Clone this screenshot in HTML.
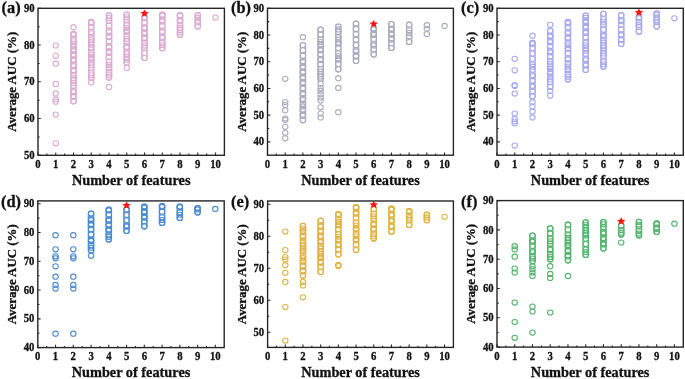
<!DOCTYPE html>
<html><head><meta charset="utf-8"><style>
html,body{margin:0;padding:0;background:#fff;}
svg{display:block;filter:blur(0.3px);}
text{font-family:"Liberation Serif", serif;fill:#111;stroke:#111;stroke-width:0.3px;}
</style></head><body>
<svg width="685" height="379" viewBox="0 0 685 379">
<rect width="685" height="379" fill="#fff"/>
<g><g fill="none" stroke="#dbadd2" stroke-width="1.1"><ellipse cx="55.75" cy="45.50" rx="2.72" ry="2.55"/><ellipse cx="55.75" cy="55.80" rx="2.72" ry="2.55"/><ellipse cx="55.75" cy="63.70" rx="2.72" ry="2.55"/><ellipse cx="55.75" cy="83.90" rx="2.72" ry="2.55"/><ellipse cx="55.75" cy="93.40" rx="2.72" ry="2.55"/><ellipse cx="55.75" cy="99.40" rx="2.72" ry="2.55"/><ellipse cx="55.75" cy="101.70" rx="2.72" ry="2.55"/><ellipse cx="55.75" cy="114.60" rx="2.72" ry="2.55"/><ellipse cx="55.75" cy="143.30" rx="2.72" ry="2.55"/><rect x="70.78" y="31.25" width="5.44" height="72.60" rx="2.72" ry="2.55"/><ellipse cx="73.50" cy="27.20" rx="2.72" ry="2.55"/><ellipse cx="73.50" cy="33.80" rx="2.72" ry="2.55"/><ellipse cx="73.50" cy="34.69" rx="2.72" ry="2.55"/><ellipse cx="73.50" cy="38.99" rx="2.72" ry="2.55"/><ellipse cx="73.50" cy="41.34" rx="2.72" ry="2.55"/><ellipse cx="73.50" cy="44.18" rx="2.72" ry="2.55"/><ellipse cx="73.50" cy="46.70" rx="2.72" ry="2.55"/><ellipse cx="73.50" cy="49.38" rx="2.72" ry="2.55"/><ellipse cx="73.50" cy="50.48" rx="2.72" ry="2.55"/><ellipse cx="73.50" cy="54.57" rx="2.72" ry="2.55"/><ellipse cx="73.50" cy="55.63" rx="2.72" ry="2.55"/><ellipse cx="73.50" cy="59.76" rx="2.72" ry="2.55"/><ellipse cx="73.50" cy="60.62" rx="2.72" ry="2.55"/><ellipse cx="73.50" cy="64.95" rx="2.72" ry="2.55"/><ellipse cx="73.50" cy="66.25" rx="2.72" ry="2.55"/><ellipse cx="73.50" cy="70.15" rx="2.72" ry="2.55"/><ellipse cx="73.50" cy="71.08" rx="2.72" ry="2.55"/><ellipse cx="73.50" cy="75.34" rx="2.72" ry="2.55"/><ellipse cx="73.50" cy="78.21" rx="2.72" ry="2.55"/><ellipse cx="73.50" cy="80.53" rx="2.72" ry="2.55"/><ellipse cx="73.50" cy="83.07" rx="2.72" ry="2.55"/><ellipse cx="73.50" cy="85.72" rx="2.72" ry="2.55"/><ellipse cx="73.50" cy="90.92" rx="2.72" ry="2.55"/><ellipse cx="73.50" cy="92.23" rx="2.72" ry="2.55"/><ellipse cx="73.50" cy="96.11" rx="2.72" ry="2.55"/><ellipse cx="73.50" cy="96.99" rx="2.72" ry="2.55"/><ellipse cx="73.50" cy="101.30" rx="2.72" ry="2.55"/><rect x="88.54" y="19.35" width="5.44" height="61.20" rx="2.72" ry="2.55"/><ellipse cx="91.26" cy="82.40" rx="2.72" ry="2.55"/><ellipse cx="91.26" cy="21.90" rx="2.72" ry="2.55"/><ellipse cx="91.26" cy="22.89" rx="2.72" ry="2.55"/><ellipse cx="91.26" cy="27.00" rx="2.72" ry="2.55"/><ellipse cx="91.26" cy="32.10" rx="2.72" ry="2.55"/><ellipse cx="91.26" cy="33.25" rx="2.72" ry="2.55"/><ellipse cx="91.26" cy="37.20" rx="2.72" ry="2.55"/><ellipse cx="91.26" cy="39.72" rx="2.72" ry="2.55"/><ellipse cx="91.26" cy="42.30" rx="2.72" ry="2.55"/><ellipse cx="91.26" cy="44.64" rx="2.72" ry="2.55"/><ellipse cx="91.26" cy="47.40" rx="2.72" ry="2.55"/><ellipse cx="91.26" cy="48.32" rx="2.72" ry="2.55"/><ellipse cx="91.26" cy="52.50" rx="2.72" ry="2.55"/><ellipse cx="91.26" cy="55.06" rx="2.72" ry="2.55"/><ellipse cx="91.26" cy="57.60" rx="2.72" ry="2.55"/><ellipse cx="91.26" cy="58.75" rx="2.72" ry="2.55"/><ellipse cx="91.26" cy="62.70" rx="2.72" ry="2.55"/><ellipse cx="91.26" cy="65.18" rx="2.72" ry="2.55"/><ellipse cx="91.26" cy="67.80" rx="2.72" ry="2.55"/><ellipse cx="91.26" cy="72.90" rx="2.72" ry="2.55"/><ellipse cx="91.26" cy="75.35" rx="2.72" ry="2.55"/><ellipse cx="91.26" cy="78.00" rx="2.72" ry="2.55"/><rect x="106.29" y="12.85" width="5.44" height="67.30" rx="2.72" ry="2.55"/><ellipse cx="109.01" cy="86.90" rx="2.72" ry="2.55"/><ellipse cx="109.01" cy="15.40" rx="2.72" ry="2.55"/><ellipse cx="109.01" cy="18.02" rx="2.72" ry="2.55"/><ellipse cx="109.01" cy="20.58" rx="2.72" ry="2.55"/><ellipse cx="109.01" cy="25.77" rx="2.72" ry="2.55"/><ellipse cx="109.01" cy="30.95" rx="2.72" ry="2.55"/><ellipse cx="109.01" cy="32.34" rx="2.72" ry="2.55"/><ellipse cx="109.01" cy="36.13" rx="2.72" ry="2.55"/><ellipse cx="109.01" cy="37.18" rx="2.72" ry="2.55"/><ellipse cx="109.01" cy="41.32" rx="2.72" ry="2.55"/><ellipse cx="109.01" cy="46.50" rx="2.72" ry="2.55"/><ellipse cx="109.01" cy="47.59" rx="2.72" ry="2.55"/><ellipse cx="109.01" cy="51.68" rx="2.72" ry="2.55"/><ellipse cx="109.01" cy="52.88" rx="2.72" ry="2.55"/><ellipse cx="109.01" cy="56.87" rx="2.72" ry="2.55"/><ellipse cx="109.01" cy="62.05" rx="2.72" ry="2.55"/><ellipse cx="109.01" cy="64.88" rx="2.72" ry="2.55"/><ellipse cx="109.01" cy="67.23" rx="2.72" ry="2.55"/><ellipse cx="109.01" cy="68.45" rx="2.72" ry="2.55"/><ellipse cx="109.01" cy="72.42" rx="2.72" ry="2.55"/><ellipse cx="109.01" cy="75.06" rx="2.72" ry="2.55"/><ellipse cx="109.01" cy="77.60" rx="2.72" ry="2.55"/><rect x="124.04" y="11.95" width="5.44" height="53.30" rx="2.72" ry="2.55"/><ellipse cx="126.76" cy="68.10" rx="2.72" ry="2.55"/><ellipse cx="126.76" cy="14.50" rx="2.72" ry="2.55"/><ellipse cx="126.76" cy="17.30" rx="2.72" ry="2.55"/><ellipse cx="126.76" cy="19.86" rx="2.72" ry="2.55"/><ellipse cx="126.76" cy="25.21" rx="2.72" ry="2.55"/><ellipse cx="126.76" cy="27.91" rx="2.72" ry="2.55"/><ellipse cx="126.76" cy="30.57" rx="2.72" ry="2.55"/><ellipse cx="126.76" cy="31.79" rx="2.72" ry="2.55"/><ellipse cx="126.76" cy="35.92" rx="2.72" ry="2.55"/><ellipse cx="126.76" cy="38.82" rx="2.72" ry="2.55"/><ellipse cx="126.76" cy="41.28" rx="2.72" ry="2.55"/><ellipse cx="126.76" cy="46.63" rx="2.72" ry="2.55"/><ellipse cx="126.76" cy="47.66" rx="2.72" ry="2.55"/><ellipse cx="126.76" cy="51.99" rx="2.72" ry="2.55"/><ellipse cx="126.76" cy="54.30" rx="2.72" ry="2.55"/><ellipse cx="126.76" cy="57.34" rx="2.72" ry="2.55"/><ellipse cx="126.76" cy="59.75" rx="2.72" ry="2.55"/><ellipse cx="126.76" cy="62.70" rx="2.72" ry="2.55"/><rect x="141.79" y="14.75" width="5.44" height="45.80" rx="2.72" ry="2.55"/><ellipse cx="144.51" cy="17.30" rx="2.72" ry="2.55"/><ellipse cx="144.51" cy="18.14" rx="2.72" ry="2.55"/><ellipse cx="144.51" cy="22.39" rx="2.72" ry="2.55"/><ellipse cx="144.51" cy="27.48" rx="2.72" ry="2.55"/><ellipse cx="144.51" cy="28.42" rx="2.72" ry="2.55"/><ellipse cx="144.51" cy="32.56" rx="2.72" ry="2.55"/><ellipse cx="144.51" cy="33.89" rx="2.72" ry="2.55"/><ellipse cx="144.51" cy="37.65" rx="2.72" ry="2.55"/><ellipse cx="144.51" cy="38.72" rx="2.72" ry="2.55"/><ellipse cx="144.51" cy="42.74" rx="2.72" ry="2.55"/><ellipse cx="144.51" cy="45.57" rx="2.72" ry="2.55"/><ellipse cx="144.51" cy="47.83" rx="2.72" ry="2.55"/><ellipse cx="144.51" cy="52.91" rx="2.72" ry="2.55"/><ellipse cx="144.51" cy="58.00" rx="2.72" ry="2.55"/><rect x="159.55" y="12.05" width="5.44" height="38.70" rx="2.72" ry="2.55"/><ellipse cx="162.27" cy="14.60" rx="2.72" ry="2.55"/><ellipse cx="162.27" cy="15.65" rx="2.72" ry="2.55"/><ellipse cx="162.27" cy="20.20" rx="2.72" ry="2.55"/><ellipse cx="162.27" cy="21.53" rx="2.72" ry="2.55"/><ellipse cx="162.27" cy="25.80" rx="2.72" ry="2.55"/><ellipse cx="162.27" cy="31.40" rx="2.72" ry="2.55"/><ellipse cx="162.27" cy="32.31" rx="2.72" ry="2.55"/><ellipse cx="162.27" cy="37.00" rx="2.72" ry="2.55"/><ellipse cx="162.27" cy="37.94" rx="2.72" ry="2.55"/><ellipse cx="162.27" cy="42.60" rx="2.72" ry="2.55"/><ellipse cx="162.27" cy="45.25" rx="2.72" ry="2.55"/><ellipse cx="162.27" cy="48.20" rx="2.72" ry="2.55"/><rect x="177.30" y="12.65" width="5.44" height="24.80" rx="2.72" ry="2.55"/><ellipse cx="180.02" cy="15.20" rx="2.72" ry="2.55"/><ellipse cx="180.02" cy="16.00" rx="2.72" ry="2.55"/><ellipse cx="180.02" cy="20.12" rx="2.72" ry="2.55"/><ellipse cx="180.02" cy="21.15" rx="2.72" ry="2.55"/><ellipse cx="180.02" cy="25.05" rx="2.72" ry="2.55"/><ellipse cx="180.02" cy="27.92" rx="2.72" ry="2.55"/><ellipse cx="180.02" cy="29.97" rx="2.72" ry="2.55"/><ellipse cx="180.02" cy="32.58" rx="2.72" ry="2.55"/><ellipse cx="180.02" cy="34.90" rx="2.72" ry="2.55"/><rect x="195.05" y="12.65" width="5.44" height="16.40" rx="2.72" ry="2.55"/><ellipse cx="197.77" cy="15.20" rx="2.72" ry="2.55"/><ellipse cx="197.77" cy="17.91" rx="2.72" ry="2.55"/><ellipse cx="197.77" cy="20.85" rx="2.72" ry="2.55"/><ellipse cx="197.77" cy="22.19" rx="2.72" ry="2.55"/><ellipse cx="197.77" cy="26.50" rx="2.72" ry="2.55"/><ellipse cx="215.52" cy="17.60" rx="2.72" ry="2.55"/></g><path d="M144.51,9.40 L145.81,11.78 L148.70,12.16 L146.61,14.02 L147.10,16.64 L144.51,15.40 L141.93,16.64 L142.42,14.02 L140.33,12.16 L143.22,11.78 Z" fill="#ff1414"/><rect x="38.00" y="8.30" width="186.40" height="147.00" fill="none" stroke="#262626" stroke-width="1.4"/><path d="M38.00,155.30V152.50M46.88,155.30V153.60M55.75,155.30V152.50M64.63,155.30V153.60M73.50,155.30V152.50M82.38,155.30V153.60M91.26,155.30V152.50M100.13,155.30V153.60M109.01,155.30V152.50M117.89,155.30V153.60M126.76,155.30V152.50M135.64,155.30V153.60M144.51,155.30V152.50M153.39,155.30V153.60M162.27,155.30V152.50M171.14,155.30V153.60M180.02,155.30V152.50M188.90,155.30V153.60M197.77,155.30V152.50M206.65,155.30V153.60M215.52,155.30V152.50M38.00,155.30H40.80M38.00,118.55H40.80M38.00,81.80H40.80M38.00,45.05H40.80M38.00,8.30H40.80M38.00,136.93H39.70M38.00,100.18H39.70M38.00,63.43H39.70M38.00,26.68H39.70" stroke="#262626" stroke-width="1.1" fill="none"/><g font-size="11.9" font-weight="bold"><text transform="translate(38.00,167.80) scale(0.9,1)" text-anchor="middle">0</text><text transform="translate(55.75,167.80) scale(0.9,1)" text-anchor="middle">1</text><text transform="translate(73.50,167.80) scale(0.9,1)" text-anchor="middle">2</text><text transform="translate(91.26,167.80) scale(0.9,1)" text-anchor="middle">3</text><text transform="translate(109.01,167.80) scale(0.9,1)" text-anchor="middle">4</text><text transform="translate(126.76,167.80) scale(0.9,1)" text-anchor="middle">5</text><text transform="translate(144.51,167.80) scale(0.9,1)" text-anchor="middle">6</text><text transform="translate(162.27,167.80) scale(0.9,1)" text-anchor="middle">7</text><text transform="translate(180.02,167.80) scale(0.9,1)" text-anchor="middle">8</text><text transform="translate(197.77,167.80) scale(0.9,1)" text-anchor="middle">9</text><text transform="translate(215.52,167.80) scale(0.9,1)" text-anchor="middle">10</text><text transform="translate(34.60,158.90) scale(0.9,1)" text-anchor="end">50</text><text transform="translate(34.60,122.15) scale(0.9,1)" text-anchor="end">60</text><text transform="translate(34.60,85.40) scale(0.9,1)" text-anchor="end">70</text><text transform="translate(34.60,48.65) scale(0.9,1)" text-anchor="end">80</text><text transform="translate(34.60,11.90) scale(0.9,1)" text-anchor="end">90</text></g><text x="131.20" y="185.00" text-anchor="middle" font-size="14.3" font-weight="bold">Number of features</text><text transform="translate(16.40,81.80) rotate(-90)" text-anchor="middle" font-size="12.9" font-weight="bold">Average AUC (%)</text><text x="1.50" y="12.80" font-size="16.4" font-weight="bold">(a)</text></g><g><g fill="none" stroke="#acacbf" stroke-width="1.1"><ellipse cx="285.20" cy="78.80" rx="2.72" ry="2.55"/><ellipse cx="285.20" cy="102.10" rx="2.72" ry="2.55"/><ellipse cx="285.20" cy="105.10" rx="2.72" ry="2.55"/><ellipse cx="285.20" cy="110.20" rx="2.72" ry="2.55"/><ellipse cx="285.20" cy="118.50" rx="2.72" ry="2.55"/><ellipse cx="285.20" cy="120.10" rx="2.72" ry="2.55"/><ellipse cx="285.20" cy="126.80" rx="2.72" ry="2.55"/><ellipse cx="285.20" cy="132.80" rx="2.72" ry="2.55"/><ellipse cx="285.20" cy="138.30" rx="2.72" ry="2.55"/><rect x="300.19" y="42.45" width="5.44" height="80.30" rx="2.72" ry="2.55"/><ellipse cx="302.91" cy="37.20" rx="2.72" ry="2.55"/><ellipse cx="302.91" cy="45.00" rx="2.72" ry="2.55"/><ellipse cx="302.91" cy="50.37" rx="2.72" ry="2.55"/><ellipse cx="302.91" cy="55.74" rx="2.72" ry="2.55"/><ellipse cx="302.91" cy="61.11" rx="2.72" ry="2.55"/><ellipse cx="302.91" cy="62.15" rx="2.72" ry="2.55"/><ellipse cx="302.91" cy="66.49" rx="2.72" ry="2.55"/><ellipse cx="302.91" cy="67.67" rx="2.72" ry="2.55"/><ellipse cx="302.91" cy="71.86" rx="2.72" ry="2.55"/><ellipse cx="302.91" cy="72.70" rx="2.72" ry="2.55"/><ellipse cx="302.91" cy="77.23" rx="2.72" ry="2.55"/><ellipse cx="302.91" cy="78.13" rx="2.72" ry="2.55"/><ellipse cx="302.91" cy="82.60" rx="2.72" ry="2.55"/><ellipse cx="302.91" cy="83.43" rx="2.72" ry="2.55"/><ellipse cx="302.91" cy="87.97" rx="2.72" ry="2.55"/><ellipse cx="302.91" cy="88.86" rx="2.72" ry="2.55"/><ellipse cx="302.91" cy="93.34" rx="2.72" ry="2.55"/><ellipse cx="302.91" cy="94.36" rx="2.72" ry="2.55"/><ellipse cx="302.91" cy="98.71" rx="2.72" ry="2.55"/><ellipse cx="302.91" cy="100.04" rx="2.72" ry="2.55"/><ellipse cx="302.91" cy="104.09" rx="2.72" ry="2.55"/><ellipse cx="302.91" cy="106.47" rx="2.72" ry="2.55"/><ellipse cx="302.91" cy="109.46" rx="2.72" ry="2.55"/><ellipse cx="302.91" cy="110.47" rx="2.72" ry="2.55"/><ellipse cx="302.91" cy="114.83" rx="2.72" ry="2.55"/><ellipse cx="302.91" cy="115.70" rx="2.72" ry="2.55"/><ellipse cx="302.91" cy="120.20" rx="2.72" ry="2.55"/><rect x="317.89" y="27.05" width="5.44" height="54.50" rx="2.72" ry="2.55"/><ellipse cx="320.61" cy="83.70" rx="2.72" ry="2.55"/><ellipse cx="320.61" cy="88.00" rx="2.72" ry="2.55"/><ellipse cx="320.61" cy="90.70" rx="2.72" ry="2.55"/><ellipse cx="320.61" cy="94.20" rx="2.72" ry="2.55"/><ellipse cx="320.61" cy="97.60" rx="2.72" ry="2.55"/><ellipse cx="320.61" cy="100.60" rx="2.72" ry="2.55"/><ellipse cx="320.61" cy="107.30" rx="2.72" ry="2.55"/><ellipse cx="320.61" cy="113.50" rx="2.72" ry="2.55"/><ellipse cx="320.61" cy="117.50" rx="2.72" ry="2.55"/><ellipse cx="320.61" cy="29.60" rx="2.72" ry="2.55"/><ellipse cx="320.61" cy="34.54" rx="2.72" ry="2.55"/><ellipse cx="320.61" cy="39.48" rx="2.72" ry="2.55"/><ellipse cx="320.61" cy="42.07" rx="2.72" ry="2.55"/><ellipse cx="320.61" cy="44.42" rx="2.72" ry="2.55"/><ellipse cx="320.61" cy="45.28" rx="2.72" ry="2.55"/><ellipse cx="320.61" cy="49.36" rx="2.72" ry="2.55"/><ellipse cx="320.61" cy="50.32" rx="2.72" ry="2.55"/><ellipse cx="320.61" cy="54.30" rx="2.72" ry="2.55"/><ellipse cx="320.61" cy="59.24" rx="2.72" ry="2.55"/><ellipse cx="320.61" cy="60.05" rx="2.72" ry="2.55"/><ellipse cx="320.61" cy="64.18" rx="2.72" ry="2.55"/><ellipse cx="320.61" cy="69.12" rx="2.72" ry="2.55"/><ellipse cx="320.61" cy="71.51" rx="2.72" ry="2.55"/><ellipse cx="320.61" cy="74.06" rx="2.72" ry="2.55"/><ellipse cx="320.61" cy="76.38" rx="2.72" ry="2.55"/><ellipse cx="320.61" cy="79.00" rx="2.72" ry="2.55"/><rect x="335.60" y="23.95" width="5.44" height="47.90" rx="2.72" ry="2.55"/><ellipse cx="338.32" cy="78.20" rx="2.72" ry="2.55"/><ellipse cx="338.32" cy="87.90" rx="2.72" ry="2.55"/><ellipse cx="338.32" cy="112.20" rx="2.72" ry="2.55"/><ellipse cx="338.32" cy="26.50" rx="2.72" ry="2.55"/><ellipse cx="338.32" cy="29.39" rx="2.72" ry="2.55"/><ellipse cx="338.32" cy="31.85" rx="2.72" ry="2.55"/><ellipse cx="338.32" cy="37.20" rx="2.72" ry="2.55"/><ellipse cx="338.32" cy="39.66" rx="2.72" ry="2.55"/><ellipse cx="338.32" cy="42.55" rx="2.72" ry="2.55"/><ellipse cx="338.32" cy="43.45" rx="2.72" ry="2.55"/><ellipse cx="338.32" cy="47.90" rx="2.72" ry="2.55"/><ellipse cx="338.32" cy="53.25" rx="2.72" ry="2.55"/><ellipse cx="338.32" cy="56.02" rx="2.72" ry="2.55"/><ellipse cx="338.32" cy="58.60" rx="2.72" ry="2.55"/><ellipse cx="338.32" cy="59.53" rx="2.72" ry="2.55"/><ellipse cx="338.32" cy="63.95" rx="2.72" ry="2.55"/><ellipse cx="338.32" cy="69.30" rx="2.72" ry="2.55"/><rect x="353.30" y="21.05" width="5.44" height="42.50" rx="2.72" ry="2.55"/><ellipse cx="356.02" cy="23.60" rx="2.72" ry="2.55"/><ellipse cx="356.02" cy="28.94" rx="2.72" ry="2.55"/><ellipse cx="356.02" cy="34.29" rx="2.72" ry="2.55"/><ellipse cx="356.02" cy="39.63" rx="2.72" ry="2.55"/><ellipse cx="356.02" cy="44.97" rx="2.72" ry="2.55"/><ellipse cx="356.02" cy="50.31" rx="2.72" ry="2.55"/><ellipse cx="356.02" cy="51.42" rx="2.72" ry="2.55"/><ellipse cx="356.02" cy="55.66" rx="2.72" ry="2.55"/><ellipse cx="356.02" cy="56.47" rx="2.72" ry="2.55"/><ellipse cx="356.02" cy="61.00" rx="2.72" ry="2.55"/><rect x="371.01" y="25.95" width="5.44" height="31.10" rx="2.72" ry="2.55"/><ellipse cx="373.73" cy="28.50" rx="2.72" ry="2.55"/><ellipse cx="373.73" cy="29.47" rx="2.72" ry="2.55"/><ellipse cx="373.73" cy="33.70" rx="2.72" ry="2.55"/><ellipse cx="373.73" cy="34.92" rx="2.72" ry="2.55"/><ellipse cx="373.73" cy="38.90" rx="2.72" ry="2.55"/><ellipse cx="373.73" cy="44.10" rx="2.72" ry="2.55"/><ellipse cx="373.73" cy="45.46" rx="2.72" ry="2.55"/><ellipse cx="373.73" cy="49.30" rx="2.72" ry="2.55"/><ellipse cx="373.73" cy="54.50" rx="2.72" ry="2.55"/><rect x="388.71" y="21.45" width="5.44" height="29.10" rx="2.72" ry="2.55"/><ellipse cx="391.43" cy="24.00" rx="2.72" ry="2.55"/><ellipse cx="391.43" cy="28.80" rx="2.72" ry="2.55"/><ellipse cx="391.43" cy="29.73" rx="2.72" ry="2.55"/><ellipse cx="391.43" cy="33.60" rx="2.72" ry="2.55"/><ellipse cx="391.43" cy="34.52" rx="2.72" ry="2.55"/><ellipse cx="391.43" cy="38.40" rx="2.72" ry="2.55"/><ellipse cx="391.43" cy="39.57" rx="2.72" ry="2.55"/><ellipse cx="391.43" cy="43.20" rx="2.72" ry="2.55"/><ellipse cx="391.43" cy="48.00" rx="2.72" ry="2.55"/><rect x="406.42" y="21.95" width="5.44" height="22.60" rx="2.72" ry="2.55"/><ellipse cx="409.14" cy="24.50" rx="2.72" ry="2.55"/><ellipse cx="409.14" cy="30.33" rx="2.72" ry="2.55"/><ellipse cx="409.14" cy="33.03" rx="2.72" ry="2.55"/><ellipse cx="409.14" cy="36.17" rx="2.72" ry="2.55"/><ellipse cx="409.14" cy="42.00" rx="2.72" ry="2.55"/><ellipse cx="426.84" cy="25.20" rx="2.72" ry="2.55"/><ellipse cx="426.84" cy="28.80" rx="2.72" ry="2.55"/><ellipse cx="426.84" cy="34.10" rx="2.72" ry="2.55"/><ellipse cx="444.55" cy="25.90" rx="2.72" ry="2.55"/></g><path d="M373.73,19.90 L375.02,22.28 L377.91,22.66 L375.82,24.52 L376.31,27.14 L373.73,25.90 L371.14,27.14 L371.64,24.52 L369.54,22.66 L372.44,22.28 Z" fill="#ff1414"/><rect x="267.50" y="8.30" width="185.90" height="146.90" fill="none" stroke="#262626" stroke-width="1.4"/><path d="M267.50,155.20V152.40M276.35,155.20V153.50M285.20,155.20V152.40M294.06,155.20V153.50M302.91,155.20V152.40M311.76,155.20V153.50M320.61,155.20V152.40M329.47,155.20V153.50M338.32,155.20V152.40M347.17,155.20V153.50M356.02,155.20V152.40M364.88,155.20V153.50M373.73,155.20V152.40M382.58,155.20V153.50M391.43,155.20V152.40M400.29,155.20V153.50M409.14,155.20V152.40M417.99,155.20V153.50M426.84,155.20V152.40M435.70,155.20V153.50M444.55,155.20V152.40M267.50,141.85H270.30M267.50,115.14H270.30M267.50,88.43H270.30M267.50,61.72H270.30M267.50,35.01H270.30M267.50,8.30H270.30M267.50,128.49H269.20M267.50,101.78H269.20M267.50,75.07H269.20M267.50,48.36H269.20M267.50,21.65H269.20" stroke="#262626" stroke-width="1.1" fill="none"/><g font-size="11.9" font-weight="bold"><text transform="translate(267.50,167.70) scale(0.9,1)" text-anchor="middle">0</text><text transform="translate(285.20,167.70) scale(0.9,1)" text-anchor="middle">1</text><text transform="translate(302.91,167.70) scale(0.9,1)" text-anchor="middle">2</text><text transform="translate(320.61,167.70) scale(0.9,1)" text-anchor="middle">3</text><text transform="translate(338.32,167.70) scale(0.9,1)" text-anchor="middle">4</text><text transform="translate(356.02,167.70) scale(0.9,1)" text-anchor="middle">5</text><text transform="translate(373.73,167.70) scale(0.9,1)" text-anchor="middle">6</text><text transform="translate(391.43,167.70) scale(0.9,1)" text-anchor="middle">7</text><text transform="translate(409.14,167.70) scale(0.9,1)" text-anchor="middle">8</text><text transform="translate(426.84,167.70) scale(0.9,1)" text-anchor="middle">9</text><text transform="translate(444.55,167.70) scale(0.9,1)" text-anchor="middle">10</text><text transform="translate(264.10,145.45) scale(0.9,1)" text-anchor="end">40</text><text transform="translate(264.10,118.74) scale(0.9,1)" text-anchor="end">50</text><text transform="translate(264.10,92.03) scale(0.9,1)" text-anchor="end">60</text><text transform="translate(264.10,65.32) scale(0.9,1)" text-anchor="end">70</text><text transform="translate(264.10,38.61) scale(0.9,1)" text-anchor="end">80</text><text transform="translate(264.10,11.90) scale(0.9,1)" text-anchor="end">90</text></g><text x="360.45" y="184.90" text-anchor="middle" font-size="14.3" font-weight="bold">Number of features</text><text transform="translate(245.90,81.75) rotate(-90)" text-anchor="middle" font-size="12.9" font-weight="bold">Average AUC (%)</text><text x="231.00" y="12.80" font-size="16.4" font-weight="bold">(b)</text></g><g><g fill="none" stroke="#aaaaef" stroke-width="1.1"><ellipse cx="514.74" cy="58.80" rx="2.72" ry="2.55"/><ellipse cx="514.74" cy="70.30" rx="2.72" ry="2.55"/><ellipse cx="514.74" cy="85.00" rx="2.72" ry="2.55"/><ellipse cx="514.74" cy="86.00" rx="2.72" ry="2.55"/><ellipse cx="514.74" cy="93.60" rx="2.72" ry="2.55"/><ellipse cx="514.74" cy="113.60" rx="2.72" ry="2.55"/><ellipse cx="514.74" cy="118.90" rx="2.72" ry="2.55"/><ellipse cx="514.74" cy="121.50" rx="2.72" ry="2.55"/><ellipse cx="514.74" cy="123.50" rx="2.72" ry="2.55"/><ellipse cx="514.74" cy="145.60" rx="2.72" ry="2.55"/><rect x="529.77" y="40.25" width="5.44" height="58.80" rx="2.72" ry="2.55"/><ellipse cx="532.49" cy="35.70" rx="2.72" ry="2.55"/><ellipse cx="532.49" cy="102.20" rx="2.72" ry="2.55"/><ellipse cx="532.49" cy="106.40" rx="2.72" ry="2.55"/><ellipse cx="532.49" cy="111.40" rx="2.72" ry="2.55"/><ellipse cx="532.49" cy="117.40" rx="2.72" ry="2.55"/><ellipse cx="532.49" cy="42.80" rx="2.72" ry="2.55"/><ellipse cx="532.49" cy="44.00" rx="2.72" ry="2.55"/><ellipse cx="532.49" cy="48.17" rx="2.72" ry="2.55"/><ellipse cx="532.49" cy="53.54" rx="2.72" ry="2.55"/><ellipse cx="532.49" cy="58.91" rx="2.72" ry="2.55"/><ellipse cx="532.49" cy="64.28" rx="2.72" ry="2.55"/><ellipse cx="532.49" cy="66.69" rx="2.72" ry="2.55"/><ellipse cx="532.49" cy="69.65" rx="2.72" ry="2.55"/><ellipse cx="532.49" cy="75.02" rx="2.72" ry="2.55"/><ellipse cx="532.49" cy="76.30" rx="2.72" ry="2.55"/><ellipse cx="532.49" cy="80.39" rx="2.72" ry="2.55"/><ellipse cx="532.49" cy="85.76" rx="2.72" ry="2.55"/><ellipse cx="532.49" cy="86.80" rx="2.72" ry="2.55"/><ellipse cx="532.49" cy="91.13" rx="2.72" ry="2.55"/><ellipse cx="532.49" cy="96.50" rx="2.72" ry="2.55"/><rect x="547.51" y="28.15" width="5.44" height="61.40" rx="2.72" ry="2.55"/><ellipse cx="550.23" cy="24.80" rx="2.72" ry="2.55"/><ellipse cx="550.23" cy="90.80" rx="2.72" ry="2.55"/><ellipse cx="550.23" cy="95.80" rx="2.72" ry="2.55"/><ellipse cx="550.23" cy="30.70" rx="2.72" ry="2.55"/><ellipse cx="550.23" cy="35.82" rx="2.72" ry="2.55"/><ellipse cx="550.23" cy="36.69" rx="2.72" ry="2.55"/><ellipse cx="550.23" cy="40.94" rx="2.72" ry="2.55"/><ellipse cx="550.23" cy="42.28" rx="2.72" ry="2.55"/><ellipse cx="550.23" cy="46.05" rx="2.72" ry="2.55"/><ellipse cx="550.23" cy="51.17" rx="2.72" ry="2.55"/><ellipse cx="550.23" cy="52.47" rx="2.72" ry="2.55"/><ellipse cx="550.23" cy="56.29" rx="2.72" ry="2.55"/><ellipse cx="550.23" cy="61.41" rx="2.72" ry="2.55"/><ellipse cx="550.23" cy="63.92" rx="2.72" ry="2.55"/><ellipse cx="550.23" cy="66.53" rx="2.72" ry="2.55"/><ellipse cx="550.23" cy="68.91" rx="2.72" ry="2.55"/><ellipse cx="550.23" cy="71.65" rx="2.72" ry="2.55"/><ellipse cx="550.23" cy="73.03" rx="2.72" ry="2.55"/><ellipse cx="550.23" cy="76.76" rx="2.72" ry="2.55"/><ellipse cx="550.23" cy="79.38" rx="2.72" ry="2.55"/><ellipse cx="550.23" cy="81.88" rx="2.72" ry="2.55"/><ellipse cx="550.23" cy="87.00" rx="2.72" ry="2.55"/><rect x="565.25" y="19.35" width="5.44" height="62.60" rx="2.72" ry="2.55"/><ellipse cx="567.97" cy="21.90" rx="2.72" ry="2.55"/><ellipse cx="567.97" cy="23.22" rx="2.72" ry="2.55"/><ellipse cx="567.97" cy="27.13" rx="2.72" ry="2.55"/><ellipse cx="567.97" cy="32.35" rx="2.72" ry="2.55"/><ellipse cx="567.97" cy="33.31" rx="2.72" ry="2.55"/><ellipse cx="567.97" cy="37.58" rx="2.72" ry="2.55"/><ellipse cx="567.97" cy="38.53" rx="2.72" ry="2.55"/><ellipse cx="567.97" cy="42.81" rx="2.72" ry="2.55"/><ellipse cx="567.97" cy="45.26" rx="2.72" ry="2.55"/><ellipse cx="567.97" cy="48.04" rx="2.72" ry="2.55"/><ellipse cx="567.97" cy="48.92" rx="2.72" ry="2.55"/><ellipse cx="567.97" cy="53.26" rx="2.72" ry="2.55"/><ellipse cx="567.97" cy="58.49" rx="2.72" ry="2.55"/><ellipse cx="567.97" cy="59.57" rx="2.72" ry="2.55"/><ellipse cx="567.97" cy="63.72" rx="2.72" ry="2.55"/><ellipse cx="567.97" cy="66.56" rx="2.72" ry="2.55"/><ellipse cx="567.97" cy="68.95" rx="2.72" ry="2.55"/><ellipse cx="567.97" cy="70.30" rx="2.72" ry="2.55"/><ellipse cx="567.97" cy="74.17" rx="2.72" ry="2.55"/><ellipse cx="567.97" cy="76.79" rx="2.72" ry="2.55"/><ellipse cx="567.97" cy="79.40" rx="2.72" ry="2.55"/><rect x="582.99" y="12.95" width="5.44" height="59.60" rx="2.72" ry="2.55"/><ellipse cx="585.71" cy="15.50" rx="2.72" ry="2.55"/><ellipse cx="585.71" cy="17.81" rx="2.72" ry="2.55"/><ellipse cx="585.71" cy="20.95" rx="2.72" ry="2.55"/><ellipse cx="585.71" cy="21.86" rx="2.72" ry="2.55"/><ellipse cx="585.71" cy="26.40" rx="2.72" ry="2.55"/><ellipse cx="585.71" cy="27.68" rx="2.72" ry="2.55"/><ellipse cx="585.71" cy="31.85" rx="2.72" ry="2.55"/><ellipse cx="585.71" cy="32.93" rx="2.72" ry="2.55"/><ellipse cx="585.71" cy="37.30" rx="2.72" ry="2.55"/><ellipse cx="585.71" cy="42.75" rx="2.72" ry="2.55"/><ellipse cx="585.71" cy="45.25" rx="2.72" ry="2.55"/><ellipse cx="585.71" cy="48.20" rx="2.72" ry="2.55"/><ellipse cx="585.71" cy="50.83" rx="2.72" ry="2.55"/><ellipse cx="585.71" cy="53.65" rx="2.72" ry="2.55"/><ellipse cx="585.71" cy="59.10" rx="2.72" ry="2.55"/><ellipse cx="585.71" cy="60.24" rx="2.72" ry="2.55"/><ellipse cx="585.71" cy="64.55" rx="2.72" ry="2.55"/><ellipse cx="585.71" cy="65.52" rx="2.72" ry="2.55"/><ellipse cx="585.71" cy="70.00" rx="2.72" ry="2.55"/><rect x="600.74" y="11.25" width="5.44" height="58.00" rx="2.72" ry="2.55"/><ellipse cx="603.46" cy="13.80" rx="2.72" ry="2.55"/><ellipse cx="603.46" cy="19.09" rx="2.72" ry="2.55"/><ellipse cx="603.46" cy="21.73" rx="2.72" ry="2.55"/><ellipse cx="603.46" cy="24.38" rx="2.72" ry="2.55"/><ellipse cx="603.46" cy="29.67" rx="2.72" ry="2.55"/><ellipse cx="603.46" cy="34.96" rx="2.72" ry="2.55"/><ellipse cx="603.46" cy="36.13" rx="2.72" ry="2.55"/><ellipse cx="603.46" cy="40.25" rx="2.72" ry="2.55"/><ellipse cx="603.46" cy="42.86" rx="2.72" ry="2.55"/><ellipse cx="603.46" cy="45.54" rx="2.72" ry="2.55"/><ellipse cx="603.46" cy="48.11" rx="2.72" ry="2.55"/><ellipse cx="603.46" cy="50.83" rx="2.72" ry="2.55"/><ellipse cx="603.46" cy="53.42" rx="2.72" ry="2.55"/><ellipse cx="603.46" cy="56.12" rx="2.72" ry="2.55"/><ellipse cx="603.46" cy="61.41" rx="2.72" ry="2.55"/><ellipse cx="603.46" cy="64.24" rx="2.72" ry="2.55"/><ellipse cx="603.46" cy="66.70" rx="2.72" ry="2.55"/><rect x="618.48" y="12.65" width="5.44" height="33.90" rx="2.72" ry="2.55"/><ellipse cx="621.20" cy="15.20" rx="2.72" ry="2.55"/><ellipse cx="621.20" cy="20.00" rx="2.72" ry="2.55"/><ellipse cx="621.20" cy="21.14" rx="2.72" ry="2.55"/><ellipse cx="621.20" cy="24.80" rx="2.72" ry="2.55"/><ellipse cx="621.20" cy="29.60" rx="2.72" ry="2.55"/><ellipse cx="621.20" cy="34.40" rx="2.72" ry="2.55"/><ellipse cx="621.20" cy="35.27" rx="2.72" ry="2.55"/><ellipse cx="621.20" cy="39.20" rx="2.72" ry="2.55"/><ellipse cx="621.20" cy="40.04" rx="2.72" ry="2.55"/><ellipse cx="621.20" cy="44.00" rx="2.72" ry="2.55"/><rect x="636.22" y="14.75" width="5.44" height="19.60" rx="2.72" ry="2.55"/><ellipse cx="638.94" cy="17.30" rx="2.72" ry="2.55"/><ellipse cx="638.94" cy="18.14" rx="2.72" ry="2.55"/><ellipse cx="638.94" cy="22.13" rx="2.72" ry="2.55"/><ellipse cx="638.94" cy="24.90" rx="2.72" ry="2.55"/><ellipse cx="638.94" cy="26.97" rx="2.72" ry="2.55"/><ellipse cx="638.94" cy="31.80" rx="2.72" ry="2.55"/><rect x="653.97" y="10.75" width="5.44" height="18.20" rx="2.72" ry="2.55"/><ellipse cx="656.69" cy="13.30" rx="2.72" ry="2.55"/><ellipse cx="656.69" cy="14.53" rx="2.72" ry="2.55"/><ellipse cx="656.69" cy="17.67" rx="2.72" ry="2.55"/><ellipse cx="656.69" cy="20.05" rx="2.72" ry="2.55"/><ellipse cx="656.69" cy="22.03" rx="2.72" ry="2.55"/><ellipse cx="656.69" cy="26.40" rx="2.72" ry="2.55"/><ellipse cx="674.43" cy="18.30" rx="2.72" ry="2.55"/></g><path d="M638.94,8.40 L640.24,10.78 L643.13,11.16 L641.04,13.02 L641.53,15.64 L638.94,14.40 L636.36,15.64 L636.85,13.02 L634.76,11.16 L637.65,10.78 Z" fill="#ff1414"/><rect x="497.00" y="8.30" width="186.30" height="146.90" fill="none" stroke="#262626" stroke-width="1.4"/><path d="M497.00,155.20V152.40M505.87,155.20V153.50M514.74,155.20V152.40M523.61,155.20V153.50M532.49,155.20V152.40M541.36,155.20V153.50M550.23,155.20V152.40M559.10,155.20V153.50M567.97,155.20V152.40M576.84,155.20V153.50M585.71,155.20V152.40M594.59,155.20V153.50M603.46,155.20V152.40M612.33,155.20V153.50M621.20,155.20V152.40M630.07,155.20V153.50M638.94,155.20V152.40M647.81,155.20V153.50M656.69,155.20V152.40M665.56,155.20V153.50M674.43,155.20V152.40M497.00,141.85H499.80M497.00,115.14H499.80M497.00,88.43H499.80M497.00,61.72H499.80M497.00,35.01H499.80M497.00,8.30H499.80M497.00,128.49H498.70M497.00,101.78H498.70M497.00,75.07H498.70M497.00,48.36H498.70M497.00,21.65H498.70" stroke="#262626" stroke-width="1.1" fill="none"/><g font-size="11.9" font-weight="bold"><text transform="translate(497.00,167.70) scale(0.9,1)" text-anchor="middle">0</text><text transform="translate(514.74,167.70) scale(0.9,1)" text-anchor="middle">1</text><text transform="translate(532.49,167.70) scale(0.9,1)" text-anchor="middle">2</text><text transform="translate(550.23,167.70) scale(0.9,1)" text-anchor="middle">3</text><text transform="translate(567.97,167.70) scale(0.9,1)" text-anchor="middle">4</text><text transform="translate(585.71,167.70) scale(0.9,1)" text-anchor="middle">5</text><text transform="translate(603.46,167.70) scale(0.9,1)" text-anchor="middle">6</text><text transform="translate(621.20,167.70) scale(0.9,1)" text-anchor="middle">7</text><text transform="translate(638.94,167.70) scale(0.9,1)" text-anchor="middle">8</text><text transform="translate(656.69,167.70) scale(0.9,1)" text-anchor="middle">9</text><text transform="translate(674.43,167.70) scale(0.9,1)" text-anchor="middle">10</text><text transform="translate(493.60,145.45) scale(0.9,1)" text-anchor="end">40</text><text transform="translate(493.60,118.74) scale(0.9,1)" text-anchor="end">50</text><text transform="translate(493.60,92.03) scale(0.9,1)" text-anchor="end">60</text><text transform="translate(493.60,65.32) scale(0.9,1)" text-anchor="end">70</text><text transform="translate(493.60,38.61) scale(0.9,1)" text-anchor="end">80</text><text transform="translate(493.60,11.90) scale(0.9,1)" text-anchor="end">90</text></g><text x="590.15" y="184.90" text-anchor="middle" font-size="14.3" font-weight="bold">Number of features</text><text transform="translate(475.40,81.75) rotate(-90)" text-anchor="middle" font-size="12.9" font-weight="bold">Average AUC (%)</text><text x="461.00" y="12.80" font-size="16.4" font-weight="bold">(c)</text></g><g><g fill="none" stroke="#4d8bcf" stroke-width="1.1"><ellipse cx="55.55" cy="235.20" rx="2.72" ry="2.55"/><ellipse cx="55.55" cy="249.30" rx="2.72" ry="2.55"/><ellipse cx="55.55" cy="256.30" rx="2.72" ry="2.55"/><ellipse cx="55.55" cy="258.30" rx="2.72" ry="2.55"/><ellipse cx="55.55" cy="266.30" rx="2.72" ry="2.55"/><ellipse cx="55.55" cy="276.70" rx="2.72" ry="2.55"/><ellipse cx="55.55" cy="284.90" rx="2.72" ry="2.55"/><ellipse cx="55.55" cy="288.60" rx="2.72" ry="2.55"/><ellipse cx="55.55" cy="333.70" rx="2.72" ry="2.55"/><ellipse cx="73.30" cy="235.20" rx="2.72" ry="2.55"/><ellipse cx="73.30" cy="249.30" rx="2.72" ry="2.55"/><ellipse cx="73.30" cy="256.30" rx="2.72" ry="2.55"/><ellipse cx="73.30" cy="258.30" rx="2.72" ry="2.55"/><ellipse cx="73.30" cy="276.70" rx="2.72" ry="2.55"/><ellipse cx="73.30" cy="284.90" rx="2.72" ry="2.55"/><ellipse cx="73.30" cy="288.60" rx="2.72" ry="2.55"/><ellipse cx="73.30" cy="333.70" rx="2.72" ry="2.55"/><rect x="88.34" y="210.95" width="5.44" height="42.00" rx="2.72" ry="2.55"/><ellipse cx="91.06" cy="255.80" rx="2.72" ry="2.55"/><ellipse cx="91.06" cy="213.50" rx="2.72" ry="2.55"/><ellipse cx="91.06" cy="218.77" rx="2.72" ry="2.55"/><ellipse cx="91.06" cy="220.14" rx="2.72" ry="2.55"/><ellipse cx="91.06" cy="224.04" rx="2.72" ry="2.55"/><ellipse cx="91.06" cy="225.14" rx="2.72" ry="2.55"/><ellipse cx="91.06" cy="229.31" rx="2.72" ry="2.55"/><ellipse cx="91.06" cy="234.59" rx="2.72" ry="2.55"/><ellipse cx="91.06" cy="239.86" rx="2.72" ry="2.55"/><ellipse cx="91.06" cy="240.92" rx="2.72" ry="2.55"/><ellipse cx="91.06" cy="245.13" rx="2.72" ry="2.55"/><ellipse cx="91.06" cy="247.63" rx="2.72" ry="2.55"/><ellipse cx="91.06" cy="250.40" rx="2.72" ry="2.55"/><rect x="106.09" y="206.95" width="5.44" height="35.10" rx="2.72" ry="2.55"/><ellipse cx="108.81" cy="209.50" rx="2.72" ry="2.55"/><ellipse cx="108.81" cy="210.49" rx="2.72" ry="2.55"/><ellipse cx="108.81" cy="214.50" rx="2.72" ry="2.55"/><ellipse cx="108.81" cy="219.50" rx="2.72" ry="2.55"/><ellipse cx="108.81" cy="220.63" rx="2.72" ry="2.55"/><ellipse cx="108.81" cy="224.50" rx="2.72" ry="2.55"/><ellipse cx="108.81" cy="225.31" rx="2.72" ry="2.55"/><ellipse cx="108.81" cy="229.50" rx="2.72" ry="2.55"/><ellipse cx="108.81" cy="230.67" rx="2.72" ry="2.55"/><ellipse cx="108.81" cy="234.50" rx="2.72" ry="2.55"/><ellipse cx="108.81" cy="236.84" rx="2.72" ry="2.55"/><ellipse cx="108.81" cy="239.50" rx="2.72" ry="2.55"/><rect x="123.84" y="206.95" width="5.44" height="26.60" rx="2.72" ry="2.55"/><ellipse cx="126.56" cy="209.50" rx="2.72" ry="2.55"/><ellipse cx="126.56" cy="214.88" rx="2.72" ry="2.55"/><ellipse cx="126.56" cy="220.25" rx="2.72" ry="2.55"/><ellipse cx="126.56" cy="225.62" rx="2.72" ry="2.55"/><ellipse cx="126.56" cy="226.58" rx="2.72" ry="2.55"/><ellipse cx="126.56" cy="231.00" rx="2.72" ry="2.55"/><rect x="141.59" y="203.95" width="5.44" height="24.90" rx="2.72" ry="2.55"/><ellipse cx="144.31" cy="206.50" rx="2.72" ry="2.55"/><ellipse cx="144.31" cy="207.77" rx="2.72" ry="2.55"/><ellipse cx="144.31" cy="211.45" rx="2.72" ry="2.55"/><ellipse cx="144.31" cy="212.33" rx="2.72" ry="2.55"/><ellipse cx="144.31" cy="216.40" rx="2.72" ry="2.55"/><ellipse cx="144.31" cy="217.75" rx="2.72" ry="2.55"/><ellipse cx="144.31" cy="221.35" rx="2.72" ry="2.55"/><ellipse cx="144.31" cy="226.30" rx="2.72" ry="2.55"/><rect x="159.35" y="203.45" width="5.44" height="22.00" rx="2.72" ry="2.55"/><ellipse cx="162.07" cy="206.00" rx="2.72" ry="2.55"/><ellipse cx="162.07" cy="206.89" rx="2.72" ry="2.55"/><ellipse cx="162.07" cy="211.63" rx="2.72" ry="2.55"/><ellipse cx="162.07" cy="217.27" rx="2.72" ry="2.55"/><ellipse cx="162.07" cy="219.99" rx="2.72" ry="2.55"/><ellipse cx="162.07" cy="222.90" rx="2.72" ry="2.55"/><rect x="177.10" y="203.95" width="5.44" height="16.50" rx="2.72" ry="2.55"/><ellipse cx="179.82" cy="206.50" rx="2.72" ry="2.55"/><ellipse cx="179.82" cy="207.33" rx="2.72" ry="2.55"/><ellipse cx="179.82" cy="212.20" rx="2.72" ry="2.55"/><ellipse cx="179.82" cy="214.76" rx="2.72" ry="2.55"/><ellipse cx="179.82" cy="217.90" rx="2.72" ry="2.55"/><rect x="194.85" y="205.55" width="5.44" height="9.50" rx="2.72" ry="2.55"/><ellipse cx="197.57" cy="208.10" rx="2.72" ry="2.55"/><ellipse cx="197.57" cy="209.46" rx="2.72" ry="2.55"/><ellipse cx="197.57" cy="212.50" rx="2.72" ry="2.55"/><ellipse cx="215.32" cy="208.90" rx="2.72" ry="2.55"/></g><path d="M126.56,201.40 L127.86,203.78 L130.75,204.16 L128.65,206.02 L129.15,208.64 L126.56,207.40 L123.98,208.64 L124.47,206.02 L122.38,204.16 L125.27,203.78 Z" fill="#ff1414"/><rect x="37.80" y="200.90" width="186.40" height="146.70" fill="none" stroke="#262626" stroke-width="1.4"/><path d="M37.80,347.60V344.80M46.68,347.60V345.90M55.55,347.60V344.80M64.43,347.60V345.90M73.30,347.60V344.80M82.18,347.60V345.90M91.06,347.60V344.80M99.93,347.60V345.90M108.81,347.60V344.80M117.69,347.60V345.90M126.56,347.60V344.80M135.44,347.60V345.90M144.31,347.60V344.80M153.19,347.60V345.90M162.07,347.60V344.80M170.94,347.60V345.90M179.82,347.60V344.80M188.70,347.60V345.90M197.57,347.60V344.80M206.45,347.60V345.90M215.32,347.60V344.80M37.80,347.60H40.60M37.80,318.84H40.60M37.80,290.07H40.60M37.80,261.31H40.60M37.80,232.54H40.60M37.80,203.78H40.60M37.80,333.22H39.50M37.80,304.45H39.50M37.80,275.69H39.50M37.80,246.92H39.50M37.80,218.16H39.50" stroke="#262626" stroke-width="1.1" fill="none"/><g font-size="11.9" font-weight="bold"><text transform="translate(37.80,360.10) scale(0.9,1)" text-anchor="middle">0</text><text transform="translate(55.55,360.10) scale(0.9,1)" text-anchor="middle">1</text><text transform="translate(73.30,360.10) scale(0.9,1)" text-anchor="middle">2</text><text transform="translate(91.06,360.10) scale(0.9,1)" text-anchor="middle">3</text><text transform="translate(108.81,360.10) scale(0.9,1)" text-anchor="middle">4</text><text transform="translate(126.56,360.10) scale(0.9,1)" text-anchor="middle">5</text><text transform="translate(144.31,360.10) scale(0.9,1)" text-anchor="middle">6</text><text transform="translate(162.07,360.10) scale(0.9,1)" text-anchor="middle">7</text><text transform="translate(179.82,360.10) scale(0.9,1)" text-anchor="middle">8</text><text transform="translate(197.57,360.10) scale(0.9,1)" text-anchor="middle">9</text><text transform="translate(215.32,360.10) scale(0.9,1)" text-anchor="middle">10</text><text transform="translate(34.40,351.20) scale(0.9,1)" text-anchor="end">40</text><text transform="translate(34.40,322.44) scale(0.9,1)" text-anchor="end">50</text><text transform="translate(34.40,293.67) scale(0.9,1)" text-anchor="end">60</text><text transform="translate(34.40,264.91) scale(0.9,1)" text-anchor="end">70</text><text transform="translate(34.40,236.14) scale(0.9,1)" text-anchor="end">80</text><text transform="translate(34.40,207.38) scale(0.9,1)" text-anchor="end">90</text></g><text x="131.00" y="377.30" text-anchor="middle" font-size="14.3" font-weight="bold">Number of features</text><text transform="translate(16.20,274.25) rotate(-90)" text-anchor="middle" font-size="12.9" font-weight="bold">Average AUC (%)</text><text x="1.00" y="206.60" font-size="16.4" font-weight="bold">(d)</text></g><g><g fill="none" stroke="#dfb445" stroke-width="1.1"><ellipse cx="285.30" cy="231.60" rx="2.72" ry="2.55"/><ellipse cx="285.30" cy="250.10" rx="2.72" ry="2.55"/><ellipse cx="285.30" cy="257.00" rx="2.72" ry="2.55"/><ellipse cx="285.30" cy="259.60" rx="2.72" ry="2.55"/><ellipse cx="285.30" cy="265.20" rx="2.72" ry="2.55"/><ellipse cx="285.30" cy="272.80" rx="2.72" ry="2.55"/><ellipse cx="285.30" cy="281.90" rx="2.72" ry="2.55"/><ellipse cx="285.30" cy="307.00" rx="2.72" ry="2.55"/><ellipse cx="285.30" cy="340.60" rx="2.72" ry="2.55"/><rect x="300.27" y="223.25" width="5.44" height="54.80" rx="2.72" ry="2.55"/><ellipse cx="302.99" cy="281.90" rx="2.72" ry="2.55"/><ellipse cx="302.99" cy="285.40" rx="2.72" ry="2.55"/><ellipse cx="302.99" cy="297.30" rx="2.72" ry="2.55"/><ellipse cx="302.99" cy="225.80" rx="2.72" ry="2.55"/><ellipse cx="302.99" cy="228.58" rx="2.72" ry="2.55"/><ellipse cx="302.99" cy="230.77" rx="2.72" ry="2.55"/><ellipse cx="302.99" cy="232.08" rx="2.72" ry="2.55"/><ellipse cx="302.99" cy="235.74" rx="2.72" ry="2.55"/><ellipse cx="302.99" cy="237.06" rx="2.72" ry="2.55"/><ellipse cx="302.99" cy="240.71" rx="2.72" ry="2.55"/><ellipse cx="302.99" cy="243.21" rx="2.72" ry="2.55"/><ellipse cx="302.99" cy="245.68" rx="2.72" ry="2.55"/><ellipse cx="302.99" cy="248.54" rx="2.72" ry="2.55"/><ellipse cx="302.99" cy="250.65" rx="2.72" ry="2.55"/><ellipse cx="302.99" cy="251.53" rx="2.72" ry="2.55"/><ellipse cx="302.99" cy="255.62" rx="2.72" ry="2.55"/><ellipse cx="302.99" cy="258.06" rx="2.72" ry="2.55"/><ellipse cx="302.99" cy="260.59" rx="2.72" ry="2.55"/><ellipse cx="302.99" cy="261.49" rx="2.72" ry="2.55"/><ellipse cx="302.99" cy="265.56" rx="2.72" ry="2.55"/><ellipse cx="302.99" cy="266.48" rx="2.72" ry="2.55"/><ellipse cx="302.99" cy="270.53" rx="2.72" ry="2.55"/><ellipse cx="302.99" cy="271.51" rx="2.72" ry="2.55"/><ellipse cx="302.99" cy="275.50" rx="2.72" ry="2.55"/><rect x="317.97" y="217.95" width="5.44" height="56.60" rx="2.72" ry="2.55"/><ellipse cx="320.69" cy="220.50" rx="2.72" ry="2.55"/><ellipse cx="320.69" cy="225.65" rx="2.72" ry="2.55"/><ellipse cx="320.69" cy="226.75" rx="2.72" ry="2.55"/><ellipse cx="320.69" cy="230.80" rx="2.72" ry="2.55"/><ellipse cx="320.69" cy="231.81" rx="2.72" ry="2.55"/><ellipse cx="320.69" cy="235.95" rx="2.72" ry="2.55"/><ellipse cx="320.69" cy="236.90" rx="2.72" ry="2.55"/><ellipse cx="320.69" cy="241.10" rx="2.72" ry="2.55"/><ellipse cx="320.69" cy="242.34" rx="2.72" ry="2.55"/><ellipse cx="320.69" cy="246.25" rx="2.72" ry="2.55"/><ellipse cx="320.69" cy="248.66" rx="2.72" ry="2.55"/><ellipse cx="320.69" cy="251.40" rx="2.72" ry="2.55"/><ellipse cx="320.69" cy="254.26" rx="2.72" ry="2.55"/><ellipse cx="320.69" cy="256.55" rx="2.72" ry="2.55"/><ellipse cx="320.69" cy="257.84" rx="2.72" ry="2.55"/><ellipse cx="320.69" cy="261.70" rx="2.72" ry="2.55"/><ellipse cx="320.69" cy="262.80" rx="2.72" ry="2.55"/><ellipse cx="320.69" cy="266.85" rx="2.72" ry="2.55"/><ellipse cx="320.69" cy="272.00" rx="2.72" ry="2.55"/><rect x="335.66" y="211.45" width="5.44" height="45.50" rx="2.72" ry="2.55"/><ellipse cx="338.38" cy="264.90" rx="2.72" ry="2.55"/><ellipse cx="338.38" cy="266.00" rx="2.72" ry="2.55"/><ellipse cx="338.38" cy="214.00" rx="2.72" ry="2.55"/><ellipse cx="338.38" cy="215.10" rx="2.72" ry="2.55"/><ellipse cx="338.38" cy="219.05" rx="2.72" ry="2.55"/><ellipse cx="338.38" cy="221.94" rx="2.72" ry="2.55"/><ellipse cx="338.38" cy="224.10" rx="2.72" ry="2.55"/><ellipse cx="338.38" cy="225.40" rx="2.72" ry="2.55"/><ellipse cx="338.38" cy="229.15" rx="2.72" ry="2.55"/><ellipse cx="338.38" cy="234.20" rx="2.72" ry="2.55"/><ellipse cx="338.38" cy="236.74" rx="2.72" ry="2.55"/><ellipse cx="338.38" cy="239.25" rx="2.72" ry="2.55"/><ellipse cx="338.38" cy="240.08" rx="2.72" ry="2.55"/><ellipse cx="338.38" cy="244.30" rx="2.72" ry="2.55"/><ellipse cx="338.38" cy="245.14" rx="2.72" ry="2.55"/><ellipse cx="338.38" cy="249.35" rx="2.72" ry="2.55"/><ellipse cx="338.38" cy="254.40" rx="2.72" ry="2.55"/><rect x="353.36" y="204.45" width="5.44" height="48.10" rx="2.72" ry="2.55"/><ellipse cx="356.08" cy="207.00" rx="2.72" ry="2.55"/><ellipse cx="356.08" cy="207.90" rx="2.72" ry="2.55"/><ellipse cx="356.08" cy="212.38" rx="2.72" ry="2.55"/><ellipse cx="356.08" cy="213.68" rx="2.72" ry="2.55"/><ellipse cx="356.08" cy="217.75" rx="2.72" ry="2.55"/><ellipse cx="356.08" cy="223.12" rx="2.72" ry="2.55"/><ellipse cx="356.08" cy="225.59" rx="2.72" ry="2.55"/><ellipse cx="356.08" cy="228.50" rx="2.72" ry="2.55"/><ellipse cx="356.08" cy="229.48" rx="2.72" ry="2.55"/><ellipse cx="356.08" cy="233.88" rx="2.72" ry="2.55"/><ellipse cx="356.08" cy="236.27" rx="2.72" ry="2.55"/><ellipse cx="356.08" cy="239.25" rx="2.72" ry="2.55"/><ellipse cx="356.08" cy="240.21" rx="2.72" ry="2.55"/><ellipse cx="356.08" cy="244.62" rx="2.72" ry="2.55"/><ellipse cx="356.08" cy="250.00" rx="2.72" ry="2.55"/><rect x="371.05" y="206.35" width="5.44" height="34.80" rx="2.72" ry="2.55"/><ellipse cx="373.77" cy="208.90" rx="2.72" ry="2.55"/><ellipse cx="373.77" cy="213.85" rx="2.72" ry="2.55"/><ellipse cx="373.77" cy="216.30" rx="2.72" ry="2.55"/><ellipse cx="373.77" cy="218.80" rx="2.72" ry="2.55"/><ellipse cx="373.77" cy="223.75" rx="2.72" ry="2.55"/><ellipse cx="373.77" cy="224.76" rx="2.72" ry="2.55"/><ellipse cx="373.77" cy="228.70" rx="2.72" ry="2.55"/><ellipse cx="373.77" cy="229.73" rx="2.72" ry="2.55"/><ellipse cx="373.77" cy="233.65" rx="2.72" ry="2.55"/><ellipse cx="373.77" cy="236.25" rx="2.72" ry="2.55"/><ellipse cx="373.77" cy="238.60" rx="2.72" ry="2.55"/><rect x="388.75" y="206.15" width="5.44" height="28.20" rx="2.72" ry="2.55"/><ellipse cx="391.47" cy="208.70" rx="2.72" ry="2.55"/><ellipse cx="391.47" cy="209.80" rx="2.72" ry="2.55"/><ellipse cx="391.47" cy="214.47" rx="2.72" ry="2.55"/><ellipse cx="391.47" cy="215.43" rx="2.72" ry="2.55"/><ellipse cx="391.47" cy="220.25" rx="2.72" ry="2.55"/><ellipse cx="391.47" cy="221.29" rx="2.72" ry="2.55"/><ellipse cx="391.47" cy="226.03" rx="2.72" ry="2.55"/><ellipse cx="391.47" cy="226.84" rx="2.72" ry="2.55"/><ellipse cx="391.47" cy="231.80" rx="2.72" ry="2.55"/><rect x="406.44" y="208.45" width="5.44" height="19.10" rx="2.72" ry="2.55"/><ellipse cx="409.16" cy="211.00" rx="2.72" ry="2.55"/><ellipse cx="409.16" cy="211.94" rx="2.72" ry="2.55"/><ellipse cx="409.16" cy="215.67" rx="2.72" ry="2.55"/><ellipse cx="409.16" cy="218.28" rx="2.72" ry="2.55"/><ellipse cx="409.16" cy="220.33" rx="2.72" ry="2.55"/><ellipse cx="409.16" cy="225.00" rx="2.72" ry="2.55"/><rect x="424.14" y="212.15" width="5.44" height="10.60" rx="2.72" ry="2.55"/><ellipse cx="426.86" cy="214.70" rx="2.72" ry="2.55"/><ellipse cx="426.86" cy="217.43" rx="2.72" ry="2.55"/><ellipse cx="426.86" cy="220.20" rx="2.72" ry="2.55"/><ellipse cx="444.55" cy="216.80" rx="2.72" ry="2.55"/></g><path d="M373.77,200.80 L375.06,203.18 L377.96,203.56 L375.86,205.42 L376.36,208.04 L373.77,206.80 L371.19,208.04 L371.68,205.42 L369.59,203.56 L372.48,203.18 Z" fill="#ff1414"/><rect x="267.60" y="201.00" width="185.80" height="146.40" fill="none" stroke="#262626" stroke-width="1.4"/><path d="M267.60,347.40V344.60M276.45,347.40V345.70M285.30,347.40V344.60M294.14,347.40V345.70M302.99,347.40V344.60M311.84,347.40V345.70M320.69,347.40V344.60M329.53,347.40V345.70M338.38,347.40V344.60M347.23,347.40V345.70M356.08,347.40V344.60M364.92,347.40V345.70M373.77,347.40V344.60M382.62,347.40V345.70M391.47,347.40V344.60M400.31,347.40V345.70M409.16,347.40V344.60M418.01,347.40V345.70M426.86,347.40V344.60M435.70,347.40V345.70M444.55,347.40V344.60M267.60,332.20H270.40M267.60,300.20H270.40M267.60,268.20H270.40M267.60,236.20H270.40M267.60,204.20H270.40M267.60,316.20H269.30M267.60,284.20H269.30M267.60,252.20H269.30M267.60,220.20H269.30" stroke="#262626" stroke-width="1.1" fill="none"/><g font-size="11.9" font-weight="bold"><text transform="translate(267.60,359.90) scale(0.9,1)" text-anchor="middle">0</text><text transform="translate(285.30,359.90) scale(0.9,1)" text-anchor="middle">1</text><text transform="translate(302.99,359.90) scale(0.9,1)" text-anchor="middle">2</text><text transform="translate(320.69,359.90) scale(0.9,1)" text-anchor="middle">3</text><text transform="translate(338.38,359.90) scale(0.9,1)" text-anchor="middle">4</text><text transform="translate(356.08,359.90) scale(0.9,1)" text-anchor="middle">5</text><text transform="translate(373.77,359.90) scale(0.9,1)" text-anchor="middle">6</text><text transform="translate(391.47,359.90) scale(0.9,1)" text-anchor="middle">7</text><text transform="translate(409.16,359.90) scale(0.9,1)" text-anchor="middle">8</text><text transform="translate(426.86,359.90) scale(0.9,1)" text-anchor="middle">9</text><text transform="translate(444.55,359.90) scale(0.9,1)" text-anchor="middle">10</text><text transform="translate(264.20,335.80) scale(0.9,1)" text-anchor="end">50</text><text transform="translate(264.20,303.80) scale(0.9,1)" text-anchor="end">60</text><text transform="translate(264.20,271.80) scale(0.9,1)" text-anchor="end">70</text><text transform="translate(264.20,239.80) scale(0.9,1)" text-anchor="end">80</text><text transform="translate(264.20,207.80) scale(0.9,1)" text-anchor="end">90</text></g><text x="360.50" y="377.10" text-anchor="middle" font-size="14.3" font-weight="bold">Number of features</text><text transform="translate(246.00,274.20) rotate(-90)" text-anchor="middle" font-size="12.9" font-weight="bold">Average AUC (%)</text><text x="231.00" y="206.60" font-size="16.4" font-weight="bold">(e)</text></g><g><g fill="none" stroke="#55b56f" stroke-width="1.1"><ellipse cx="514.74" cy="246.20" rx="2.72" ry="2.55"/><ellipse cx="514.74" cy="249.40" rx="2.72" ry="2.55"/><ellipse cx="514.74" cy="256.70" rx="2.72" ry="2.55"/><ellipse cx="514.74" cy="268.50" rx="2.72" ry="2.55"/><ellipse cx="514.74" cy="272.50" rx="2.72" ry="2.55"/><ellipse cx="514.74" cy="302.60" rx="2.72" ry="2.55"/><ellipse cx="514.74" cy="322.00" rx="2.72" ry="2.55"/><ellipse cx="514.74" cy="337.80" rx="2.72" ry="2.55"/><rect x="529.77" y="233.05" width="5.44" height="30.80" rx="2.72" ry="2.55"/><ellipse cx="532.49" cy="266.20" rx="2.72" ry="2.55"/><ellipse cx="532.49" cy="269.20" rx="2.72" ry="2.55"/><ellipse cx="532.49" cy="272.50" rx="2.72" ry="2.55"/><ellipse cx="532.49" cy="275.90" rx="2.72" ry="2.55"/><ellipse cx="532.49" cy="306.50" rx="2.72" ry="2.55"/><ellipse cx="532.49" cy="311.50" rx="2.72" ry="2.55"/><ellipse cx="532.49" cy="332.60" rx="2.72" ry="2.55"/><ellipse cx="532.49" cy="235.60" rx="2.72" ry="2.55"/><ellipse cx="532.49" cy="240.74" rx="2.72" ry="2.55"/><ellipse cx="532.49" cy="241.74" rx="2.72" ry="2.55"/><ellipse cx="532.49" cy="245.88" rx="2.72" ry="2.55"/><ellipse cx="532.49" cy="251.02" rx="2.72" ry="2.55"/><ellipse cx="532.49" cy="252.25" rx="2.72" ry="2.55"/><ellipse cx="532.49" cy="256.16" rx="2.72" ry="2.55"/><ellipse cx="532.49" cy="258.49" rx="2.72" ry="2.55"/><ellipse cx="532.49" cy="261.30" rx="2.72" ry="2.55"/><rect x="547.51" y="225.75" width="5.44" height="36.10" rx="2.72" ry="2.55"/><ellipse cx="550.23" cy="266.20" rx="2.72" ry="2.55"/><ellipse cx="550.23" cy="273.90" rx="2.72" ry="2.55"/><ellipse cx="550.23" cy="277.90" rx="2.72" ry="2.55"/><ellipse cx="550.23" cy="312.50" rx="2.72" ry="2.55"/><ellipse cx="550.23" cy="228.30" rx="2.72" ry="2.55"/><ellipse cx="550.23" cy="233.47" rx="2.72" ry="2.55"/><ellipse cx="550.23" cy="238.63" rx="2.72" ry="2.55"/><ellipse cx="550.23" cy="241.37" rx="2.72" ry="2.55"/><ellipse cx="550.23" cy="243.80" rx="2.72" ry="2.55"/><ellipse cx="550.23" cy="248.97" rx="2.72" ry="2.55"/><ellipse cx="550.23" cy="250.08" rx="2.72" ry="2.55"/><ellipse cx="550.23" cy="254.13" rx="2.72" ry="2.55"/><ellipse cx="550.23" cy="256.93" rx="2.72" ry="2.55"/><ellipse cx="550.23" cy="259.30" rx="2.72" ry="2.55"/><rect x="565.25" y="222.15" width="5.44" height="40.70" rx="2.72" ry="2.55"/><ellipse cx="567.97" cy="275.90" rx="2.72" ry="2.55"/><ellipse cx="567.97" cy="224.70" rx="2.72" ry="2.55"/><ellipse cx="567.97" cy="229.79" rx="2.72" ry="2.55"/><ellipse cx="567.97" cy="234.87" rx="2.72" ry="2.55"/><ellipse cx="567.97" cy="237.71" rx="2.72" ry="2.55"/><ellipse cx="567.97" cy="239.96" rx="2.72" ry="2.55"/><ellipse cx="567.97" cy="242.67" rx="2.72" ry="2.55"/><ellipse cx="567.97" cy="245.04" rx="2.72" ry="2.55"/><ellipse cx="567.97" cy="245.86" rx="2.72" ry="2.55"/><ellipse cx="567.97" cy="250.13" rx="2.72" ry="2.55"/><ellipse cx="567.97" cy="251.14" rx="2.72" ry="2.55"/><ellipse cx="567.97" cy="255.21" rx="2.72" ry="2.55"/><ellipse cx="567.97" cy="256.52" rx="2.72" ry="2.55"/><ellipse cx="567.97" cy="260.30" rx="2.72" ry="2.55"/><rect x="582.99" y="219.75" width="5.44" height="37.80" rx="2.72" ry="2.55"/><ellipse cx="585.71" cy="222.30" rx="2.72" ry="2.55"/><ellipse cx="585.71" cy="224.98" rx="2.72" ry="2.55"/><ellipse cx="585.71" cy="227.75" rx="2.72" ry="2.55"/><ellipse cx="585.71" cy="230.46" rx="2.72" ry="2.55"/><ellipse cx="585.71" cy="233.20" rx="2.72" ry="2.55"/><ellipse cx="585.71" cy="235.50" rx="2.72" ry="2.55"/><ellipse cx="585.71" cy="238.65" rx="2.72" ry="2.55"/><ellipse cx="585.71" cy="244.10" rx="2.72" ry="2.55"/><ellipse cx="585.71" cy="249.55" rx="2.72" ry="2.55"/><ellipse cx="585.71" cy="252.17" rx="2.72" ry="2.55"/><ellipse cx="585.71" cy="255.00" rx="2.72" ry="2.55"/><rect x="600.74" y="219.45" width="5.44" height="31.60" rx="2.72" ry="2.55"/><ellipse cx="603.46" cy="222.00" rx="2.72" ry="2.55"/><ellipse cx="603.46" cy="224.34" rx="2.72" ry="2.55"/><ellipse cx="603.46" cy="227.30" rx="2.72" ry="2.55"/><ellipse cx="603.46" cy="232.60" rx="2.72" ry="2.55"/><ellipse cx="603.46" cy="233.44" rx="2.72" ry="2.55"/><ellipse cx="603.46" cy="237.90" rx="2.72" ry="2.55"/><ellipse cx="603.46" cy="239.14" rx="2.72" ry="2.55"/><ellipse cx="603.46" cy="243.20" rx="2.72" ry="2.55"/><ellipse cx="603.46" cy="244.44" rx="2.72" ry="2.55"/><ellipse cx="603.46" cy="248.50" rx="2.72" ry="2.55"/><rect x="618.48" y="223.15" width="5.44" height="14.00" rx="2.72" ry="2.55"/><ellipse cx="621.20" cy="242.50" rx="2.72" ry="2.55"/><ellipse cx="621.20" cy="225.70" rx="2.72" ry="2.55"/><ellipse cx="621.20" cy="230.15" rx="2.72" ry="2.55"/><ellipse cx="621.20" cy="232.68" rx="2.72" ry="2.55"/><ellipse cx="621.20" cy="234.60" rx="2.72" ry="2.55"/><rect x="636.22" y="219.25" width="5.44" height="18.70" rx="2.72" ry="2.55"/><ellipse cx="638.94" cy="221.80" rx="2.72" ry="2.55"/><ellipse cx="638.94" cy="224.51" rx="2.72" ry="2.55"/><ellipse cx="638.94" cy="226.33" rx="2.72" ry="2.55"/><ellipse cx="638.94" cy="230.87" rx="2.72" ry="2.55"/><ellipse cx="638.94" cy="233.55" rx="2.72" ry="2.55"/><ellipse cx="638.94" cy="235.40" rx="2.72" ry="2.55"/><rect x="653.97" y="220.75" width="5.44" height="13.80" rx="2.72" ry="2.55"/><ellipse cx="656.69" cy="223.30" rx="2.72" ry="2.55"/><ellipse cx="656.69" cy="224.19" rx="2.72" ry="2.55"/><ellipse cx="656.69" cy="227.65" rx="2.72" ry="2.55"/><ellipse cx="656.69" cy="228.90" rx="2.72" ry="2.55"/><ellipse cx="656.69" cy="232.00" rx="2.72" ry="2.55"/><ellipse cx="674.43" cy="223.70" rx="2.72" ry="2.55"/></g><path d="M621.20,217.30 L622.49,219.68 L625.38,220.06 L623.29,221.92 L623.79,224.54 L621.20,223.30 L618.61,224.54 L619.11,221.92 L617.02,220.06 L619.91,219.68 Z" fill="#ff1414"/><rect x="497.00" y="200.60" width="186.30" height="146.50" fill="none" stroke="#262626" stroke-width="1.4"/><path d="M497.00,347.10V344.30M505.87,347.10V345.40M514.74,347.10V344.30M523.61,347.10V345.40M532.49,347.10V344.30M541.36,347.10V345.40M550.23,347.10V344.30M559.10,347.10V345.40M567.97,347.10V344.30M576.84,347.10V345.40M585.71,347.10V344.30M594.59,347.10V345.40M603.46,347.10V344.30M612.33,347.10V345.40M621.20,347.10V344.30M630.07,347.10V345.40M638.94,347.10V344.30M647.81,347.10V345.40M656.69,347.10V344.30M665.56,347.10V345.40M674.43,347.10V344.30M497.00,347.10H499.80M497.00,317.80H499.80M497.00,288.50H499.80M497.00,259.20H499.80M497.00,229.90H499.80M497.00,200.60H499.80M497.00,332.45H498.70M497.00,303.15H498.70M497.00,273.85H498.70M497.00,244.55H498.70M497.00,215.25H498.70" stroke="#262626" stroke-width="1.1" fill="none"/><g font-size="11.9" font-weight="bold"><text transform="translate(497.00,359.60) scale(0.9,1)" text-anchor="middle">0</text><text transform="translate(514.74,359.60) scale(0.9,1)" text-anchor="middle">1</text><text transform="translate(532.49,359.60) scale(0.9,1)" text-anchor="middle">2</text><text transform="translate(550.23,359.60) scale(0.9,1)" text-anchor="middle">3</text><text transform="translate(567.97,359.60) scale(0.9,1)" text-anchor="middle">4</text><text transform="translate(585.71,359.60) scale(0.9,1)" text-anchor="middle">5</text><text transform="translate(603.46,359.60) scale(0.9,1)" text-anchor="middle">6</text><text transform="translate(621.20,359.60) scale(0.9,1)" text-anchor="middle">7</text><text transform="translate(638.94,359.60) scale(0.9,1)" text-anchor="middle">8</text><text transform="translate(656.69,359.60) scale(0.9,1)" text-anchor="middle">9</text><text transform="translate(674.43,359.60) scale(0.9,1)" text-anchor="middle">10</text><text transform="translate(493.60,350.70) scale(0.9,1)" text-anchor="end">40</text><text transform="translate(493.60,321.40) scale(0.9,1)" text-anchor="end">50</text><text transform="translate(493.60,292.10) scale(0.9,1)" text-anchor="end">60</text><text transform="translate(493.60,262.80) scale(0.9,1)" text-anchor="end">70</text><text transform="translate(493.60,233.50) scale(0.9,1)" text-anchor="end">80</text><text transform="translate(493.60,204.20) scale(0.9,1)" text-anchor="end">90</text></g><text x="590.15" y="376.80" text-anchor="middle" font-size="14.3" font-weight="bold">Number of features</text><text transform="translate(475.40,273.85) rotate(-90)" text-anchor="middle" font-size="12.9" font-weight="bold">Average AUC (%)</text><text x="461.00" y="206.60" font-size="16.4" font-weight="bold">(f)</text></g>
</svg></body></html>
